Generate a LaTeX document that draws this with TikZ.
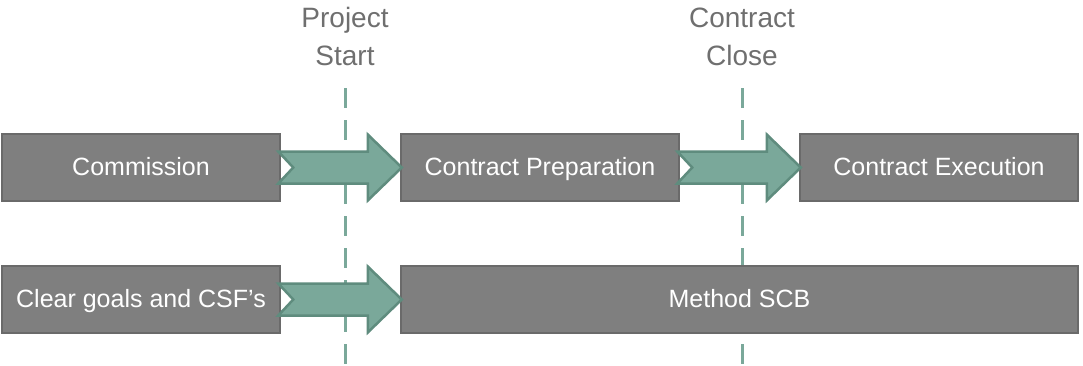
\documentclass[tikz,border=0pt]{standalone}
\usepackage{fontspec}
\setmainfont{Liberation Sans}
\usepackage{tikz}
\usetikzlibrary{calc}

\definecolor{boxgray}{HTML}{7F7F7F}
\definecolor{boxedge}{HTML}{6A6A6A}
\definecolor{arrowfill}{HTML}{7AA89A}
\definecolor{arrowedge}{HTML}{5F8C7E}
\definecolor{labelgray}{HTML}{6F6F6F}

\newcommand{\notcharrow}[2]{%
    \draw[flowarrow] let \p1=(#1.east), \p2=(#2.west) in
        (\x1-3pt,\y1+16pt) -- (\x2-32pt,\y1+16pt) -- (\x2-32pt,\y1+33pt)
        -- (\x2+2pt,\y1) -- (\x2-32pt,\y1-33pt) -- (\x2-32pt,\y1-16pt)
        -- (\x1-3pt,\y1-16pt) -- (\x1+12pt,\y1) -- cycle;}

\begin{document}
\begin{tikzpicture}[
        x=1pt, y=-1pt,
        phase/.style={draw=boxedge, line width=2.5pt, fill=boxgray, text=white,
            minimum height=67pt, inner sep=0pt, text height=18pt, text depth=2pt,
            font=\fontsize{25}{30}\selectfont},
        flowarrow/.style={draw=arrowedge, line width=2.5pt, fill=arrowfill, line join=miter},
        milestone/.style={text=labelgray, align=center, inner sep=0pt,
            font=\fontsize{28}{38}\selectfont},
        gate/.style={draw=arrowfill, line width=3pt, dash pattern=on 20pt off 12pt}
    ]
    \useasboundingbox (0,0) rectangle (1083,365);

    % milestones
    \node[milestone, anchor=base] (start) at (345,65) {Project\\Start};
    \node[milestone, anchor=base] (close) at (742,65) {Contract\\Close};
    \coordinate (start top) at (345,88);
    \coordinate (start end) at (345,364);
    \coordinate (close top) at (742,88);
    \coordinate (close end) at (742,364);
    \draw[gate] (start top) -- (start end);
    \draw[gate] (close top) -- (close end);

    % first row
    \node[phase, minimum width=278pt] (comm) at (141,167.5) {Commission};
    \node[phase, minimum width=278pt] (prep) at (540,167.5) {Contract Preparation};
    \node[phase, minimum width=278pt] (exec) at (939,167.5) {Contract Execution};

    % second row
    \node[phase, minimum width=278pt] (goals) at (141,299.5) {Clear goals and CSF’s};
    \node[phase, minimum width=677pt] (scb) at (739.5,299.5) {Method SCB};

    \notcharrow{comm}{prep}
    \notcharrow{prep}{exec}
    \notcharrow{goals}{scb}
\end{tikzpicture}
\end{document}
